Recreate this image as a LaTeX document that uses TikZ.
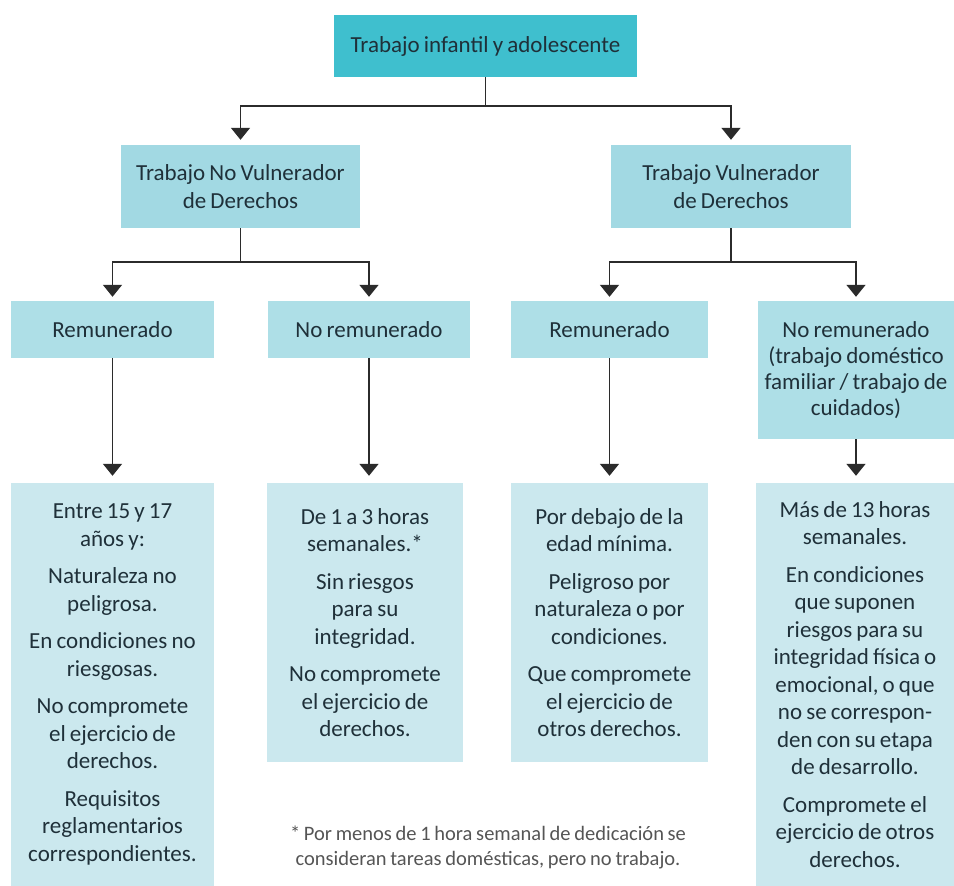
\documentclass[tikz,border=0pt]{standalone}
\usepackage{fontspec}
\setmainfont{Carlito}[WordSpace=0.8]
\usetikzlibrary{arrows.meta}
\definecolor{tealtop}{HTML}{3FBFCE}
\definecolor{bluemid}{HTML}{A2D9E3}
\definecolor{bluelow}{HTML}{AEDFE7}
\definecolor{bluepale}{HTML}{CBE8EE}
\definecolor{inkdark}{HTML}{1F3039}
\definecolor{linegray}{HTML}{2B2B2B}
\definecolor{notegray}{HTML}{555555}
\begin{document}
\begin{tikzpicture}[x=1pt,y=-1pt,
    box/.style={inner sep=0pt,align=flush center,text=inkdark,font=\fontsize{23}{27.5}\selectfont},
    boxsize/.style n args={2}{minimum width=#1,text width=#1-4pt,minimum height=#2},
    conn/.style={linegray,line width=1.6pt,-{Triangle[width=19pt,length=12pt]}}]
    \useasboundingbox (0,0) rectangle (954,886);
    % main box
    \node[box,fill=tealtop,boxsize={303pt}{62pt}] (tia) at (485.5,46) {Trabajo infantil y adolescente};
    % second level
    \node[box,fill=bluemid,boxsize={239pt}{83pt}] (tnv) at (240.5,186.5) {Trabajo No Vulnerador\\de Derechos};
    \node[box,fill=bluemid,boxsize={240pt}{83pt}] (tv) at (731,186.5) {Trabajo Vulnerador\\de Derechos};
    % third level
    \node[box,fill=bluelow,boxsize={203pt}{57pt}] (rem1) at (112.5,329.5) {Remunerado};
    \node[box,fill=bluelow,boxsize={202pt}{57pt}] (norem1) at (369,329.5) {No remunerado};
    \node[box,fill=bluelow,boxsize={197pt}{57pt}] (rem2) at (609.5,329.5) {Remunerado};
    \node[box,fill=bluelow,boxsize={196pt}{138pt},text width=196pt,font=\fontsize{23}{26}\selectfont] (norem2) at (856,370)
      {No remunerado\\(trabajo doméstico\\familiar / trabajo de\\cuidados)};
    % details
    \node[box,fill=bluepale,boxsize={203pt}{403pt}] (det1) at (112.5,684.5)
      {Entre 15 y 17\\años y:\\[10pt]Naturaleza no\\peligrosa.\\[10pt]En condiciones no\\riesgosas.\\[10pt]%
       No compromete\\el ejercicio de\\derechos.\\[10pt]Requisitos\\reglamentarios\\correspondientes.};
    \node[box,fill=bluepale,boxsize={196pt}{279pt}] (det2) at (365,622.5)
      {De 1 a 3 horas\\semanales.*\\[10pt]Sin riesgos\\para su\\integridad.\\[10pt]No compromete\\el ejercicio de\\derechos.};
    \node[box,fill=bluepale,boxsize={197pt}{279pt}] (det3) at (609.5,622.5)
      {Por debajo de la\\edad mínima.\\[10pt]Peligroso por\\naturaleza o por\\condiciones.\\[10pt]Que compromete\\el ejercicio de\\otros derechos.};
    \node[box,fill=bluepale,boxsize={198pt}{403pt}] (det4) at (855,684.5)
      {Más de 13 horas\\semanales.\\[10pt]En condiciones\\que suponen\\riesgos para su\\integridad física o\\emocional, o que\\no se correspon-\\den con su etapa\\de desarrollo.\\[10pt]%
       Compromete el\\ejercicio de otros\\derechos.};
    % footnote
    \node[align=flush center,text=notegray,font=\fontsize{20.5}{25}\selectfont] (nota) at (488,847)
      {* Por menos de 1 hora semanal de dedicación se\\consideran tareas domésticas, pero no trabajo.};
    % connectors
    \draw[conn,shorten >=5pt] (tia.south) -- ++(0,29) -| (tnv.north);
    \draw[conn,shorten >=5pt] (tia.south) -- ++(0,29) -| (tv.north);
    \draw[conn,shorten >=4pt] (tnv.south) -- ++(0,34) -| (rem1.north);
    \draw[conn,shorten >=4pt] (tnv.south) -- ++(0,34) -| (norem1.north);
    \draw[conn,shorten >=4pt] (tv.south) -- ++(0,34) -| (rem2.north);
    \draw[conn,shorten >=4pt] (tv.south) -- ++(0,34) -| (norem2.north);
    \draw[conn,shorten >=7pt] (rem1.south) -- (det1.north);
    \draw[conn,shorten >=7pt] (norem1.south) -- (norem1.south |- det2.north);
    \draw[conn,shorten >=7pt] (rem2.south) -- (det3.north);
    \draw[conn,shorten >=7pt] (norem2.south) -- (norem2.south |- det4.north);
  \end{tikzpicture}
\end{document}
